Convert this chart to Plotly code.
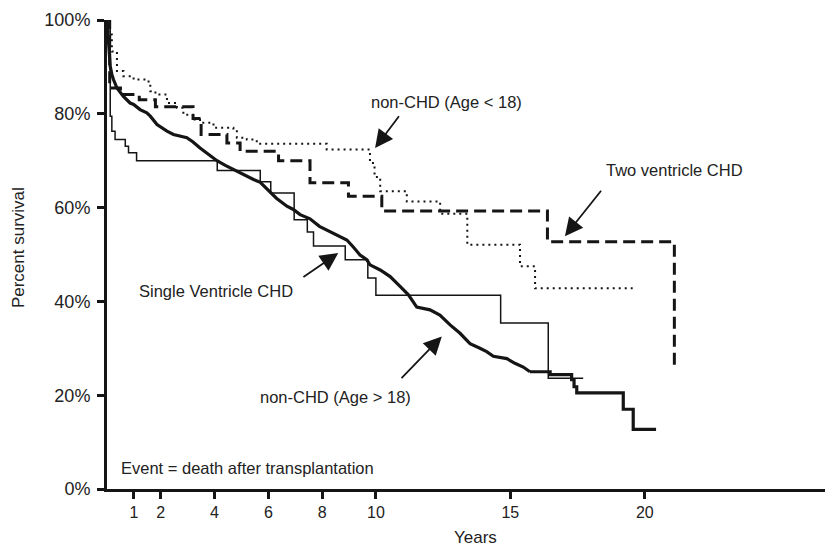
import plotly.graph_objects as go

# ---- data (years, percent survival) ----
# non-CHD (Age > 18): smooth early part and stepped tail
adult_t = [0, 0.06, 0.12, 0.18, 0.24, 0.37, 0.49, 0.61, 0.86, 0.99, 1.23, 1.48, 1.61, 1.86,
           2.23, 2.47, 2.97, 3.2, 3.46, 3.8, 4.09, 4.4, 4.7, 5.1, 5.45, 5.7, 5.94, 6.3,
           6.69, 6.93, 7.18, 7.55, 7.9, 8.42, 8.92, 9.16, 9.41, 9.66, 9.78, 10.16, 10.53,
           10.9, 11.21, 11.52, 12.01, 12.38, 12.76, 13.13, 13.5, 13.87, 14.12, 14.37,
           14.87, 15.17, 15.48, 15.73]
adult_s = [100, 94.1, 90.1, 88.4, 87.3, 85.5, 84.5, 83.7, 82.3, 82.0, 80.9, 80.2, 79.5, 77.7,
           76.3, 75.6, 74.9, 74.0, 72.7, 71.3, 70.0, 69.0, 68.1, 67.0, 66.0, 65.4, 64.0, 62.0,
           60.3, 59.6, 58.5, 57.6, 56.0, 54.6, 53.1, 51.6, 49.9, 48.9, 47.8, 46.7, 45.3,
           43.2, 41.4, 38.8, 38.2, 37.1, 35.0, 33.2, 31.0, 30.0, 29.3, 28.3,
           27.8, 26.8, 26.0, 25.0]
adult_tail_t = [15.73, 16.48, 17.28, 17.37, 17.47, 19.2, 19.57, 20.42]
adult_tail_s = [25.0, 24.4, 23.3, 21.8, 20.5, 17.0, 12.7, 12.7]

# Single ventricle CHD
single_t = [0, 0.12, 0.18, 0.3, 0.68, 0.8, 1.1, 4.1, 5.7, 6.09, 6.96, 7.45, 7.68, 8.86,
            9.7, 10.0, 14.64, 16.41, 17.71]
single_s = [100, 79.5, 76.3, 74.5, 73.1, 71.7, 70.0, 67.9, 65.5, 63.1, 57.4, 54.8, 51.8, 48.9,
            45.0, 41.3, 35.4, 23.6, 23.6]

# Two ventricle CHD
two_t = [0, 0.1, 0.5, 1.2, 1.8, 3.2, 3.5, 4.46, 4.95, 6.38, 7.55, 8.98, 10.22, 16.38, 21.1]
two_s = [100, 85.5, 84.1, 83.0, 81.5, 79.0, 75.6, 73.8, 72.0, 70.0, 65.3, 62.4, 59.3, 52.7, 26.1]

# non-CHD (Age < 18)
child_t = [0, 0.06, 0.18, 0.37, 0.61, 0.99, 1.48, 1.61, 1.8, 2.23, 2.6, 2.84, 3.2, 3.46,
           3.96, 4.7, 4.83, 5.2, 5.57, 8.17, 9.78, 9.95, 10.16, 11.15, 12.39, 13.4, 15.36,
           15.92, 19.55]
child_s = [100, 96.9, 93.3, 89.1, 88.0, 87.3, 86.9, 84.8, 84.1, 82.3, 81.3, 79.8, 78.8, 78.1,
           77.0, 76.3, 74.9, 74.5, 73.6, 72.4, 69.5, 66.5, 63.5, 61.3, 58.7, 52.1, 47.5,
           42.8, 42.8]

x_ticks = [1, 2, 4, 6, 8, 10, 15, 20]
y_ticks = [0, 20, 40, 60, 80, 100]
y_tick_text = ["0%", "20%", "40%", "60%", "80%", "100%"]

INK = "#151515"
TXT = "#222222"
FONT = "Liberation Sans, Arial, sans-serif"

fig = go.Figure()
fig.add_trace(go.Scatter(x=child_t, y=child_s, mode="lines", line_shape="hv",
                         line=dict(color=INK, width=2, dash="2px,4px")))
fig.add_trace(go.Scatter(x=two_t, y=two_s, mode="lines", line_shape="hv",
                         line=dict(color=INK, width=3, dash="12px,6px")))
fig.add_trace(go.Scatter(x=single_t, y=single_s, mode="lines", line_shape="hv",
                         line=dict(color=INK, width=1.5)))
fig.add_trace(go.Scatter(x=adult_t, y=adult_s, mode="lines", line_shape="linear",
                         line=dict(color=INK, width=3.2)))
fig.add_trace(go.Scatter(x=adult_tail_t, y=adult_tail_s, mode="lines", line_shape="hv",
                         line=dict(color=INK, width=3.2)))

labels = [
    ("non-CHD (Age < 18)", 12.64, 82.5, "center"),
    ("Two ventricle CHD", 21.11, 68.1, "center"),
    ("Single Ventricle CHD", 4.07, 42.3, "center"),
    ("non-CHD (Age > 18)", 8.48, 19.6, "center"),
    ("Event = death after transplantation", 0.45, 4.4, "left"),
]
for txt, x, y, anc in labels:
    fig.add_annotation(x=x, y=y, text=txt, showarrow=False, xanchor=anc, yanchor="middle",
                       font=dict(size=16.5, color=TXT, family=FONT))

arrows = [
    (9.97, 72.7, 10.9, 79.8),
    (17.03, 53.9, 18.42, 63.9),
    (8.6, 50.3, 7.25, 45.0),
    (12.45, 32.5, 10.9, 23.3),
]
for hx, hy, tx, ty in arrows:
    fig.add_annotation(x=hx, y=hy, ax=tx, ay=ty, xref="x", yref="y", axref="x", ayref="y",
                       text="", showarrow=True, arrowhead=2, arrowsize=2, arrowwidth=1.8,
                       arrowcolor=INK, standoff=0)

fig.add_annotation(x=0.508, y=-0.103, xref="paper", yref="paper", text="Years",
                   xanchor="center", yanchor="middle",
                   showarrow=False, font=dict(size=17, color=TXT, family=FONT))
fig.add_annotation(x=-0.121, y=0.514, xref="paper", yref="paper", text="Percent survival",
                   xanchor="center", yanchor="middle",
                   textangle=-90, showarrow=False, font=dict(size=17, color=TXT, family=FONT))

fig.update_layout(
    width=825, height=540,
    margin=dict(l=99, r=0, t=12, b=59),
    paper_bgcolor="white", plot_bgcolor="white",
    showlegend=False,
    font=dict(family=FONT, color=TXT),
    xaxis=dict(range=[0, 27], tickvals=x_ticks, ticktext=[str(v) for v in x_ticks],
               showgrid=False, zeroline=False, showline=True, linecolor=INK, linewidth=3,
               ticks="outside", ticklen=7, tickwidth=2.5, tickcolor=INK,
               tickfont=dict(size=16, color=TXT, family=FONT), ticklabelstandoff=0),
    yaxis=dict(range=[0, 100], tickvals=y_ticks, ticktext=y_tick_text,
               showgrid=False, zeroline=False, showline=True, linecolor=INK, linewidth=3,
               ticks="outside", ticklen=7, tickwidth=2.5, tickcolor=INK,
               tickfont=dict(size=18, color=TXT, family=FONT), ticklabelstandoff=3),
)

fig.write_html("out.html")
